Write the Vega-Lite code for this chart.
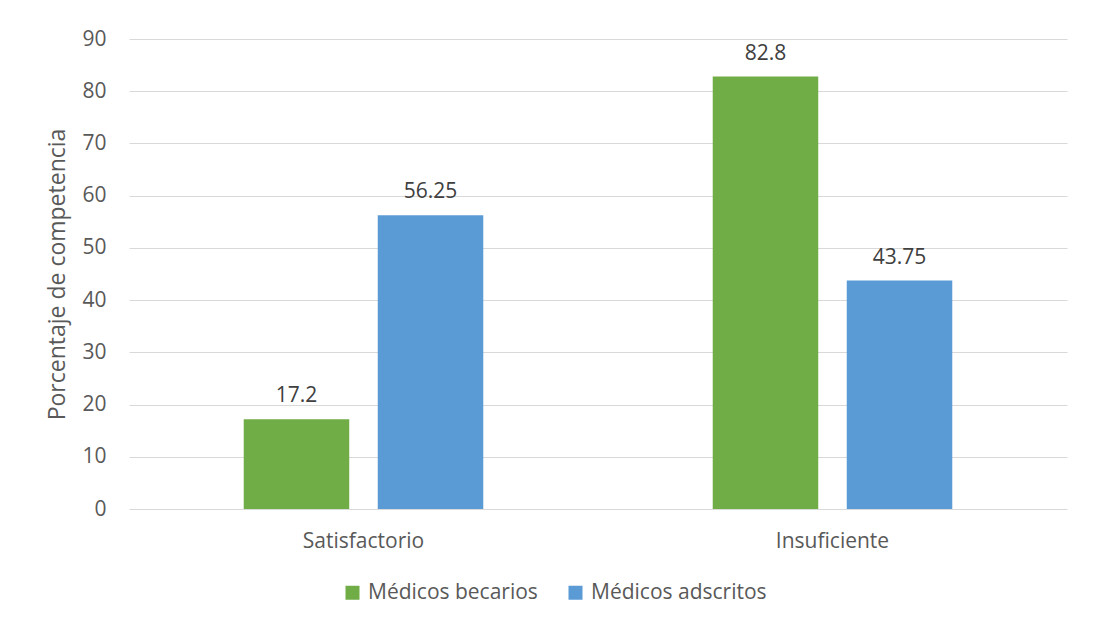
{
  "$schema": "https://vega.github.io/schema/vega-lite/v6.json",
  "autosize": "none",
  "width": 938,
  "height": 470,
  "padding": {"left": 129, "top": 39, "right": 27, "bottom": 116},
  "background": "white",
  "data": {"values": [
    {"categoria": "Satisfactorio", "grupo": "Médicos becarios", "valor": 17.2},
    {"categoria": "Satisfactorio", "grupo": "Médicos adscritos", "valor": 56.25},
    {"categoria": "Insuficiente", "grupo": "Médicos becarios", "valor": 82.8},
    {"categoria": "Insuficiente", "grupo": "Médicos adscritos", "valor": 43.75}
  ]},
  "encoding": {
    "x": {"field": "categoria", "type": "nominal", "sort": ["Satisfactorio", "Insuficiente"],
      "scale": {"paddingInner": 0, "paddingOuter": 0},
      "axis": {"title": null, "labelAngle": 0, "domain": false, "ticks": false, "labelPadding": 21, "labelFontSize": 21, "labelColor": "#595959", "labelFont": "Open Sans", "grid": false}},
    "xOffset": {"field": "grupo", "type": "nominal", "sort": ["Médicos becarios", "Médicos adscritos"],
      "scale": {"paddingInner": 0.2127, "paddingOuter": 0.856}},
    "y": {"field": "valor", "type": "quantitative", "scale": {"domain": [0, 90]},
      "axis": {"title": "Porcentaje de competencia", "values": [0,10,20,30,40,50,60,70,80,90], "domain": false, "ticks": false, "labelPadding": 23, "labelFontSize": 21, "labelColor": "#595959", "labelFont": "Open Sans", "titleFont": "Open Sans", "titleFontSize": 23, "titleFontWeight": "normal", "titleColor": "#595959", "titlePadding": 12, "gridColor": "#d9d9d9", "gridWidth": 1}}
  },
  "layer": [
    {"mark": {"type": "bar"},
     "encoding": {"color": {"field": "grupo", "type": "nominal", "sort": ["Médicos becarios", "Médicos adscritos"],
       "scale": {"domain": ["Médicos becarios", "Médicos adscritos"], "range": ["#70ad47", "#5b9bd5"]},
       "legend": {"title": null, "orient": "none", "direction": "horizontal", "legendX": 213, "legendY": 543, "padding": 0, "symbolType": "square", "symbolSize": 196, "symbolStrokeWidth": 0, "labelFontSize": 21, "labelFont": "Open Sans", "labelColor": "#595959", "labelOffset": 5, "labelLimit": 400, "columnPadding": 27}}}},
    {"mark": {"type": "text", "baseline": "bottom", "dy": -13, "fontSize": 21, "font": "Open Sans", "color": "#404040"},
     "encoding": {"text": {"field": "valor", "type": "quantitative", "format": ""}}}
  ],
  "config": {"view": {"stroke": null}}
}
